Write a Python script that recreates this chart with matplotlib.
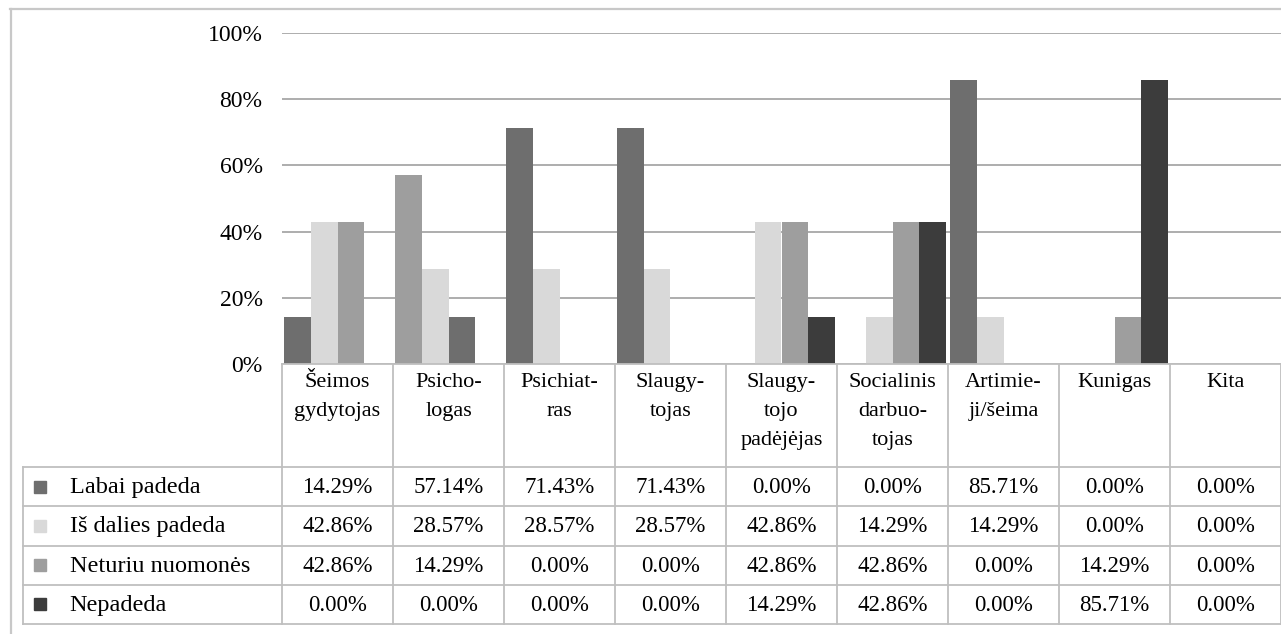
import numpy as np
from matplotlib import pyplot as plt
from matplotlib.lines import Line2D

plt.rcParams["font.family"] = ["Liberation Serif", "DejaVu Serif"]

categories = ["Šeimos\ngydytojas", "Psicho-\nlogas", "Psichiat-\nras", "Slaugy-\ntojas",
              "Slaugy-\ntojo\npadėjėjas", "Socialinis\ndarbuo-\ntojas", "Artimie-\nji/šeima",
              "Kunigas", "Kita"]
series_names = ["Labai padeda", "Iš dalies padeda", "Neturiu nuomonės", "Nepadeda"]
labai = [14.29, 57.14, 71.43, 71.43, 0.00, 0.00, 85.71, 0.00, 0.00]
is_dalies = [42.86, 28.57, 28.57, 28.57, 42.86, 14.29, 14.29, 0.00, 0.00]
neturiu = [42.86, 14.29, 0.00, 0.00, 42.86, 42.86, 0.00, 14.29, 0.00]
nepadeda = [0.00, 0.00, 0.00, 0.00, 14.29, 42.86, 0.00, 85.71, 0.00]
series = [labai, is_dalies, neturiu, nepadeda]
colors = ["#6e6e6e", "#d9d9d9", "#9e9e9e", "#3c3c3c"]
# in the original the first and third bar colours are swapped for this category
swapped = ["Psicho-\nlogas"]

W, H = 1281, 634
fig = plt.figure(figsize=(W / 100, H / 100), dpi=100)


def px(x0, y0, x1, y1):
    return [x0 / W, 1 - y1 / H, (x1 - x0) / W, (y1 - y0) / H]


line_col = "#bfbfbf"

# bar chart
ax = fig.add_axes(px(282, 33, 1281, 364))
n = len(categories)
x = np.arange(n)
bw = 0.24
for i, vals in enumerate(series):
    cols = []
    for cat in categories:
        c = i
        if cat in swapped and i in (0, 2):
            c = 2 - i
        cols.append(colors[c])
    ax.bar(x + (i - 1.5) * bw, vals, bw, color=cols, zorder=3)
ax.set_xlim(-0.5, n - 0.5)
ax.set_ylim(0, 100)
ax.set_yticks(range(0, 101, 20))
ax.set_yticklabels([f"{t}%" for t in range(0, 101, 20)], fontsize=17)
ax.tick_params(axis="y", length=0, pad=14)
ax.set_xticks([])
ax.grid(axis="y", color="#a0a0a0", linewidth=1.2, zorder=0)
for s in ["left", "right", "top", "bottom"]:
    ax.spines[s].set_visible(False)

# data table
legend_w = (282 - 23) / 111
tab = fig.add_axes(px(23, 364, 1281, 624))
tab.set_xlim(-0.5 - legend_w, n - 0.5)
tab.set_ylim(260, 0)
tab.axis("off")
header_h = 103
row_h = (260 - header_h) / 4

tab.plot([-0.5, n - 0.5], [0, 0], color=line_col, lw=1.3, clip_on=False)
for r in range(5):
    y = header_h + r * row_h
    tab.plot([-0.5 - legend_w, n - 0.5], [y, y], color=line_col, lw=1.3, clip_on=False)
tab.plot([-0.5 - legend_w] * 2, [header_h, 260], color=line_col, lw=1.3, clip_on=False)
for k in range(n + 1):
    tab.plot([k - 0.5] * 2, [0, 260], color=line_col, lw=1.3, clip_on=False)

for k, cat in enumerate(categories):
    tab.text(k, 9, cat, ha="center", va="top", fontsize=16, linespacing=1.7)

for r, (name, vals) in enumerate(zip(series_names, series)):
    yc = header_h + (r + 0.5) * row_h
    tab.plot(-0.5 - legend_w + 0.15, yc, marker="s", markersize=9,
             color=colors[r], linestyle="none", clip_on=False)
    tab.text(-0.5 - legend_w + 0.42, yc + 1, name, ha="left", va="center", fontsize=17.5)
    for k, v in enumerate(vals):
        tab.text(k, yc + 1, f"{v:.2f}%", ha="center", va="center", fontsize=16.5)

# outer chart border
fig.add_artist(Line2D([10 / W, 1], [1 - 9 / H] * 2, color="#c8c8c8", lw=1.6))
fig.add_artist(Line2D([11 / W] * 2, [0, 1 - 9 / H], color="#c8c8c8", lw=1.6))

fig.savefig("out.png", dpi=100)
